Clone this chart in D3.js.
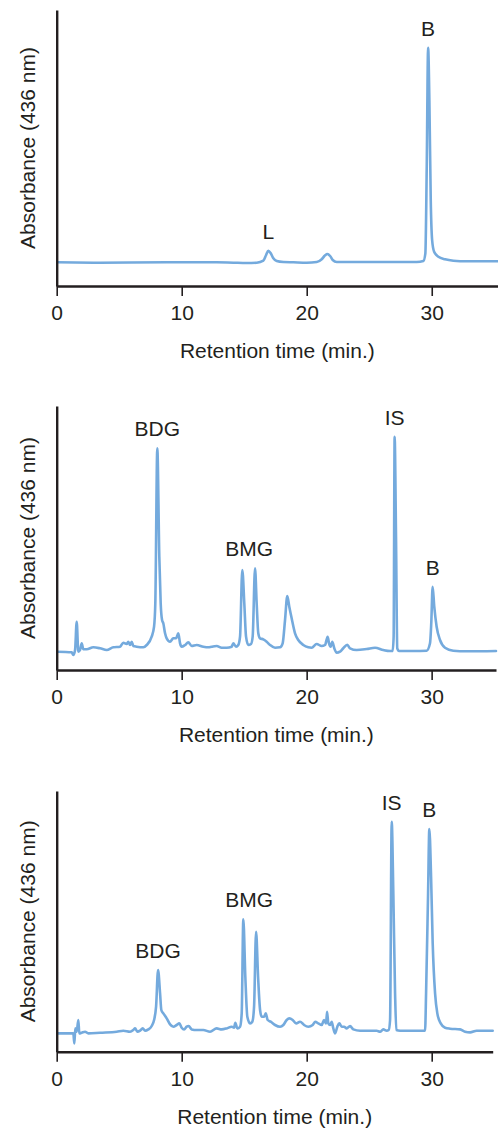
<!DOCTYPE html>
<html>
<head>
<meta charset="utf-8">
<script src="https://cdn.jsdelivr.net/npm/d3@7"></script>
<style>
  html, body { margin: 0; padding: 0; background: #fff; }
  svg { display: block; }
  text { font-family: "Liberation Sans", Arial, Helvetica, sans-serif; fill: #231f20; }
</style>
</head>
<body>
<svg id="chart" width="498" height="1129"></svg>
<script>
// ---------- DATA ----------
// Retention time (min) and absorbance (arbitrary units)
const xTicks = [0, 10, 20, 30];
const xLabel = "Retention time (min.)";
const yLabel = "Absorbance (436 nm)";

// Panel 1: standard (L, B)
const trace1 = [
  [0.05,23.7],[3.47,23.3],[8.8,23.7],[12.8,23.7],[14.13,23.3],[15.2,23.0],[16.0,23.3],
  [16.53,25.3],[16.75,31.0],[16.93,35.3],[17.12,32.7],[17.33,27.7],[17.6,25.0],[18.13,24.0],
  [18.93,23.7],[20.0,23.3],[20.8,24.0],[21.2,26.7],[21.47,30.7],[21.65,32.0],[21.87,30.0],
  [22.08,26.0],[22.4,24.0],[23.47,24.0],[26.13,24.0],[28.8,24.0],[29.33,25.0],[29.49,32.7],
  [29.6,119.3],[29.71,238.3],[29.81,186.0],[29.92,86.0],[30.03,46.0],[30.19,34.3],[30.53,29.3],
  [31.07,26.7],[31.73,25.3],[32.8,24.7],[35.3,24.7]
];
const labels1 = [["L",16.93],["B",29.71]];

// Panel 2
const trace2 = [
  [0.05,18.3],[1.2,17.7],[1.33,15.0],[1.47,20.0],[1.6,48.3],[1.73,18.3],[1.87,20.0],[2.0,26.7],
  [2.13,20.7],[2.4,20.7],[2.93,22.7],[3.47,21.7],[4.0,20.0],[4.53,22.7],[5.07,23.3],[5.33,27.3],
  [5.6,26.0],[5.73,28.3],[5.87,25.0],[6.0,28.3],[6.13,24.0],[6.4,23.3],[6.93,22.7],[7.2,25.0],
  [7.6,33.3],[7.79,43.3],[7.89,66.7],[8.05,221.7],[8.21,113.3],[8.32,66.7],[8.43,50.0],[8.53,46.7],
  [8.67,36.7],[8.8,31.7],[9.07,28.3],[9.33,31.7],[9.55,31.7],[9.73,36.7],[9.87,26.7],[10.0,23.3],
  [10.27,25.0],[10.53,27.7],[10.8,24.0],[11.2,25.0],[11.73,23.3],[12.13,22.7],[12.4,23.3],[12.8,24.0],
  [13.2,22.3],[13.6,22.3],[14.0,23.3],[14.13,26.7],[14.35,23.3],[14.53,25.0],[14.67,33.3],[14.85,100.0],
  [15.01,66.7],[15.15,33.3],[15.33,25.0],[15.55,26.0],[15.68,33.3],[15.87,101.7],[16.0,66.7],[16.13,36.7],
  [16.27,31.7],[16.53,30.7],[16.8,28.3],[17.07,25.0],[17.47,22.3],[17.87,22.7],[18.08,26.7],[18.27,50.0],
  [18.45,74.0],[18.61,63.3],[18.8,51.7],[19.07,36.7],[19.33,30.0],[19.73,25.0],[20.13,22.7],[20.4,22.3],
  [20.8,26.0],[21.2,24.0],[21.47,25.0],[21.68,33.3],[21.79,26.7],[21.92,23.3],[22.05,28.3],[22.21,21.7],
  [22.4,17.3],[22.67,18.3],[22.93,21.7],[23.25,25.3],[23.47,21.7],[24.0,20.0],[24.8,21.0],[25.47,22.3],
  [26.13,20.0],[26.67,19.0],[26.88,19.0],[26.96,33.3],[27.04,233.3],[27.15,133.3],[27.25,21.7],[27.39,19.0],
  [28.53,19.0],[29.6,19.3],[29.87,26.7],[29.97,46.7],[30.08,83.3],[30.21,63.3],[30.4,43.3],[30.67,30.0],
  [31.07,22.3],[31.73,19.3],[32.8,18.7],[35.15,19.0]
];
const labels2 = [["BDG",8.05],["BMG",15.4],["IS",27.04],["B",30.08]];

// Panel 3
const trace3 = [
  [0.05,18.3],[1.33,18.3],[1.41,8.3],[1.49,23.3],[1.6,20.0],[1.73,31.7],[1.81,18.3],[2.0,19.0],
  [2.27,20.0],[2.53,18.3],[3.47,19.0],[4.8,20.0],[5.33,21.0],[5.87,20.0],[6.13,21.7],[6.27,23.3],
  [6.45,20.0],[6.67,21.0],[6.88,23.3],[7.07,21.0],[7.33,22.3],[7.6,25.7],[7.79,31.7],[7.95,45.0],
  [8.11,81.7],[8.27,58.3],[8.37,41.7],[8.53,38.3],[8.8,33.3],[9.07,27.3],[9.33,25.0],[9.6,26.7],
  [9.81,28.3],[10.0,24.0],[10.19,22.3],[10.4,25.0],[10.56,25.7],[10.8,22.3],[11.2,21.7],[11.73,21.7],
  [12.27,20.0],[12.8,23.3],[13.2,22.3],[13.6,23.3],[14.0,25.0],[14.19,24.0],[14.29,29.0],[14.45,23.3],
  [14.67,25.0],[14.8,38.3],[14.93,132.3],[15.09,75.0],[15.25,35.0],[15.47,28.3],[15.65,30.0],[15.79,45.0],
  [15.95,120.0],[16.11,75.0],[16.27,41.7],[16.4,35.0],[16.59,35.0],[16.72,38.3],[16.88,31.7],[17.12,30.0],
  [17.47,26.7],[17.87,25.0],[18.13,26.7],[18.4,31.7],[18.61,33.3],[18.88,31.7],[19.15,28.3],[19.47,30.0],
  [19.79,26.7],[20.13,25.0],[20.48,26.7],[20.69,30.0],[20.93,28.3],[21.2,26.7],[21.39,31.7],[21.55,28.3],
  [21.63,40.0],[21.73,28.3],[21.87,26.7],[22.0,30.0],[22.13,23.3],[22.27,18.3],[22.45,25.0],[22.61,28.3],
  [22.8,25.0],[22.99,25.0],[23.2,23.3],[23.47,25.7],[23.73,22.3],[24.27,21.0],[25.07,21.0],[25.6,21.0],
  [25.87,20.0],[26.13,22.3],[26.4,21.0],[26.56,21.7],[26.67,31.7],[26.8,230.0],[26.93,158.3],[27.07,58.3],
  [27.17,21.7],[27.47,21.0],[29.47,21.0],[29.55,58.3],[29.71,158.3],[29.81,222.7],[29.95,175.0],[30.08,108.3],
  [30.27,58.3],[30.45,38.3],[30.72,28.3],[31.07,24.0],[31.47,23.0],[32.27,22.3],[32.67,20.0],[33.07,19.3],
  [33.6,21.0],[34.88,21.0]
];
const labels3 = [["BDG",8.11],["BMG",15.4],["IS",26.8],["B",29.81]];

// ---------- LAYOUT ----------
const svg = d3.select("#chart");
const lineColor = "#74aadd";
const inkColor = "#231f20";
const fontSize = 21;

const panels = [
  { data: trace1, labels: labels1, top: 10,  axisY: 286,   xMax: 35.3,  right: 498 },
  { data: trace2, labels: labels2, top: 406, axisY: 670,   xMax: 35.15, right: 496 },
  { data: trace3, labels: labels3, top: 791, axisY: 1051.7, xMax: 34.88, right: 492.7 }
];
const left = 56.7;

panels.forEach(p => {
  const x = d3.scaleLinear().domain([0, p.xMax]).range([left, p.right]);
  const y = d3.scaleLinear().domain([0, p.axisY - p.top]).range([p.axisY, p.top]);
  const g = svg.append("g");

  // line
  const line = d3.line().x(d => x(d[0])).y(d => y(d[1])).curve(d3.curveMonotoneX);
  g.append("path").datum(p.data)
    .attr("d", line)
    .attr("fill", "none")
    .attr("stroke", lineColor)
    .attr("stroke-width", 2.6)
    .attr("stroke-linejoin", "round")
    .attr("stroke-linecap", "round");

  // x axis
  const xAxis = d3.axisBottom(x).tickValues(xTicks).tickSizeInner(10).tickSizeOuter(0).tickPadding(9);
  const gx = g.append("g").attr("transform", `translate(0,${p.axisY})`).call(xAxis);
  gx.select(".domain").attr("stroke", inkColor).attr("stroke-width", 2.4);
  gx.selectAll(".tick line").attr("stroke", inkColor).attr("stroke-width", 1.6);
  gx.selectAll(".tick text")
    .attr("font-size", fontSize)
    .attr("font-family", '"Liberation Sans", Arial, sans-serif')
    .attr("fill", inkColor);

  // y axis (line only)
  const yAxis = d3.axisLeft(y).tickValues([]).tickSizeOuter(0);
  const gy = g.append("g").attr("transform", `translate(${left},0)`).call(yAxis);
  gy.select(".domain").attr("stroke", inkColor).attr("stroke-width", 2.4);

  // axis titles
  g.append("text")
    .attr("x", (left + p.right) / 2)
    .attr("y", p.axisY + 72)
    .attr("text-anchor", "middle")
    .attr("font-size", fontSize)
    .text(xLabel);
  g.append("text")
    .attr("transform", `translate(27,${(p.top + p.axisY) / 2}) rotate(-90)`)
    .attr("text-anchor", "middle")
    .attr("dy", "0.36em")
    .attr("font-size", fontSize)
    .text(yLabel);

  // peak labels
  p.labels.forEach(([name, t]) => {
    const near = p.data.filter(d => Math.abs(d[0] - t) <= 0.7);
    const peak = d3.max(near, d => d[1]);
    g.append("text")
      .attr("x", x(t))
      .attr("y", y(peak) - 12)
      .attr("text-anchor", "middle")
      .attr("font-size", fontSize)
      .text(name);
  });
});
</script>
</body>
</html>
